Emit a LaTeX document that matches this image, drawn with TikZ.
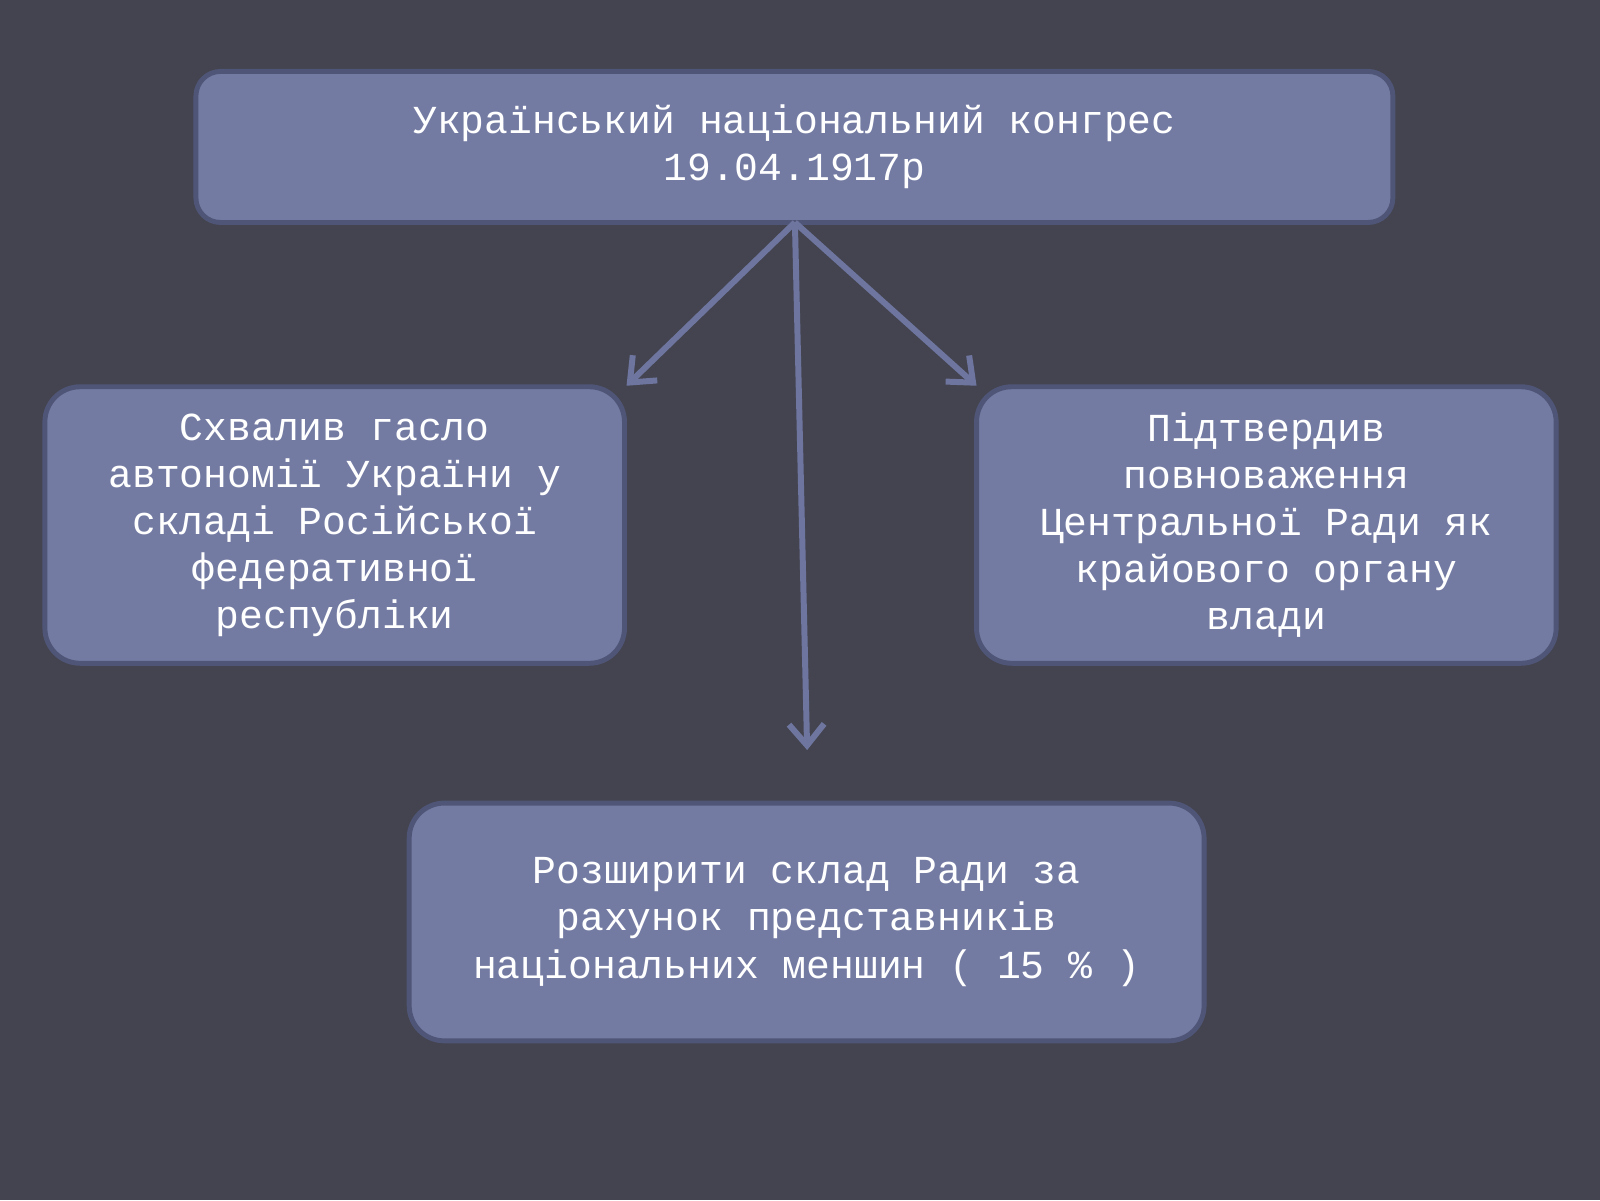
\documentclass[tikz,border=0pt]{standalone}
\usepackage{fontspec}
\setmonofont{Liberation Mono}
\usetikzlibrary{arrows.meta}
\definecolor{bg}{HTML}{444450}
\definecolor{boxfill}{HTML}{737BA3}
\definecolor{boxline}{HTML}{4F5577}
\definecolor{arr}{HTML}{6E76A0}
\tikzset{
  box/.style={draw=boxline, line width=1.4pt, fill=boxfill, rounded corners=10pt, text=white,
    font=\ttfamily\fontsize{11.3}{13.4}\selectfont, align=center, inner sep=0pt},
  conn/.style={draw=arr, line width=1.7pt, -{Straight Barb[length=6pt,width=10pt,line width=1.7pt]}}
}
\begin{document}
\begin{tikzpicture}[x=0.010204cm,y=-0.010204cm]
\fill[bg] (0,0) rectangle (1568,1176);
\useasboundingbox (0,0) rectangle (1568,1176);
\node[box, rounded corners=7pt, minimum width=1173*0.010204cm, minimum height=148*0.010204cm] (top) at (778.5,144)
 {Український національний конгрес\\19.04.1917р};
\node[box, minimum width=568*0.010204cm, minimum height=271*0.010204cm] (left) at (328,514.5)
 {Схвалив гасло\\автономії України у\\складі Російської\\федеративної\\республіки};
\node[box, minimum width=568*0.010204cm, minimum height=271*0.010204cm] (right) at (1241,514.5)
 {Підтвердив\\повноваження\\Центральної Ради як\\крайового органу\\влади};
\node[box, minimum width=779*0.010204cm, minimum height=233*0.010204cm] (bottom) at (790.5,903.5)
 {Розширити склад Ради за\\рахунок представників\\національних меншин ( 15 \% )};
\coordinate (src) at (779,218);
\coordinate (lend) at (614,378);
\coordinate (rend) at (957,378);
\coordinate (bend) at (791,735);
\draw[conn] (src) -- (lend);
\draw[conn] (src) -- (rend);
\draw[conn] (src) -- (bend);
\end{tikzpicture}
\end{document}
